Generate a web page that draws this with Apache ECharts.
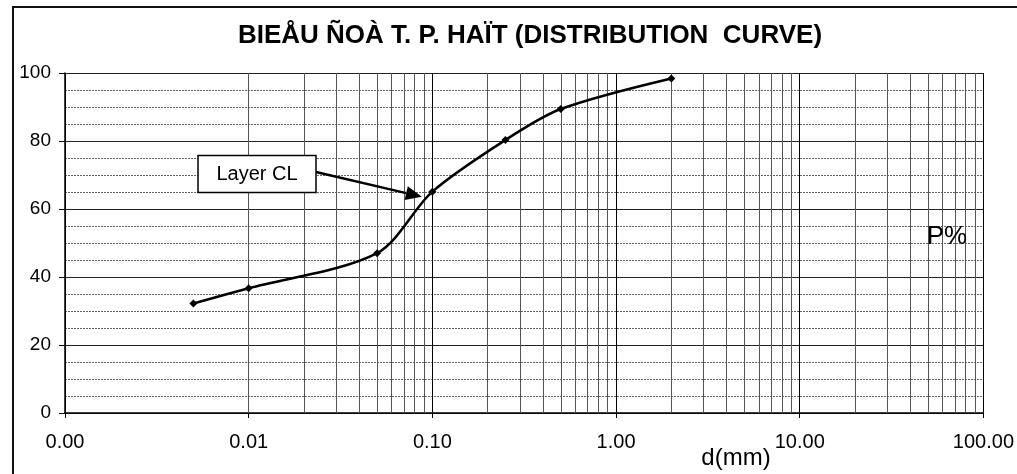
<!DOCTYPE html>
<html>
<head>
<meta charset="utf-8">
<script src="https://cdn.jsdelivr.net/npm/echarts@6/dist/echarts.min.js"></script>
<style>
  html, body { margin: 0; padding: 0; background: #fff; }
  #chart { width: 1017px; height: 474px; }
</style>
</head>
<body>
<div id="chart"></div>
<script>
// Grain size (mm) and percent passing
const grainSize = [0.005, 0.01, 0.05, 0.1, 0.25, 0.5, 2];
const percentPassing = [32.2, 36.7, 47.0, 65.1, 80.3, 89.4, 98.4];

const titleText = 'BIEÅU ÑOÀ T. P. HAÏT (DISTRIBUTION  CURVE)';
const layerLabel = 'Layer CL';
const xAxisName = 'd(mm)';
const yAxisName = 'P%';

// Decades of the logarithmic size axis
const decades = [0.001, 0.01, 0.1, 1, 10];
const minorSteps = [2, 3, 4, 5, 6, 7, 8, 9];

// Log-paper minor grid lines: 2..9 within every decade
const minorGridValues = [];
decades.forEach(d => minorSteps.forEach(s => minorGridValues.push(+(d * s).toPrecision(3))));

// Point the callout arrow at
const arrowTarget = [0.0876, 63.6];

const FONT = '"Liberation Sans", Arial, sans-serif';
const chart = echarts.init(document.getElementById('chart'), null, { renderer: 'canvas' });

const option = {
  animation: false,
  backgroundColor: '#fff',
  grid: { left: 65, right: 30, top: 73, bottom: 61, containLabel: false },
  title: {
    text: titleText,
    left: 525, top: 18, textAlign: 'center',
    textStyle: { fontFamily: FONT, fontSize: 26, fontWeight: 'bold', color: '#000' }
  },
  xAxis: {
    type: 'log', logBase: 10, min: 0.001, max: 100,
    axisLine: { show: true, onZero: false, lineStyle: { color: '#000', width: 1.5 } },
    axisTick: { show: true, length: 5, lineStyle: { color: '#000' } },
    axisLabel: {
      fontFamily: FONT, fontSize: 20, color: '#000', margin: 19,
      formatter: v => Number(v).toFixed(2)
    },
    splitLine: { show: true, lineStyle: { color: '#000', width: 1 } },
    minorTick: { show: false },
    minorSplitLine: { show: false }
  },
  yAxis: {
    type: 'value', min: 0, max: 100, interval: 20,
    axisLine: { show: true, onZero: false, lineStyle: { color: '#000', width: 1.5 } },
    axisTick: { show: true, length: 6, lineStyle: { color: '#000' } },
    axisLabel: { fontFamily: FONT, fontSize: 19, color: '#000', margin: 14 },
    splitLine: { show: true, lineStyle: { color: '#222', width: 1 } },
    minorTick: { show: false, splitNumber: 4 },
    minorSplitLine: { show: true, lineStyle: { color: '#666', width: 1, type: [2, 1] } }
  },
  series: [
    {
      type: 'line',
      data: grainSize.map((d, i) => [d, percentPassing[i]]),
      smooth: 0.3,
      symbol: 'diamond',
      symbolSize: 8,
      showAllSymbol: true,
      lineStyle: { color: '#000', width: 2.5 },
      itemStyle: { color: '#000' },
      z: 5,
      markLine: {
        silent: true,
        symbol: ['none', 'none'],
        label: { show: false },
        lineStyle: { color: '#555', width: 1, type: 'solid' },
        data: minorGridValues.map(v => ({ xAxis: v })),
        z: 1
      }
    }
  ]
};
chart.setOption(option);

// Callout box, arrow and axis captions
const tip = chart.convertToPixel({ gridIndex: 0 }, arrowTarget);
const boxRight = 316, boxMidY = 172;
const ang = Math.atan2(tip[1] - boxMidY, tip[0] - boxRight);
const headLen = 16, headHalf = 7;
const baseX = tip[0] - headLen * Math.cos(ang), baseY = tip[1] - headLen * Math.sin(ang);
const nx = -Math.sin(ang), ny = Math.cos(ang);

chart.setOption({
  graphic: [
    {
      type: 'rect', silent: true, z: 100,
      shape: { x: 13, y: 7, width: 1100, height: 600 },
      style: { fill: 'none', stroke: '#111', lineWidth: 2 }
    },
    {
      type: 'line', silent: true, z: 100,
      shape: { x1: boxRight, y1: boxMidY, x2: baseX, y2: baseY },
      style: { stroke: '#000', lineWidth: 2.5 }
    },
    {
      type: 'polygon', silent: true, z: 100,
      shape: { points: [tip, [baseX + nx * headHalf, baseY + ny * headHalf], [baseX - nx * headHalf, baseY - ny * headHalf]] },
      style: { fill: '#000' }
    },
    {
      type: 'rect', silent: true, z: 100,
      shape: { x: 198, y: 155.5, width: 118, height: 37 },
      style: { fill: '#fff', stroke: '#000', lineWidth: 1.5 }
    },
    {
      type: 'text', silent: true, z: 101,
      style: { x: 257, y: 174, text: layerLabel, align: 'center', verticalAlign: 'middle',
               font: '20px ' + FONT, fill: '#000' }
    },
    {
      type: 'text', silent: true, z: 101,
      style: { x: 947, y: 237, text: yAxisName, align: 'center', verticalAlign: 'middle',
               font: '26px ' + FONT, fill: '#000' }
    },
    {
      type: 'text', silent: true, z: 101,
      style: { x: 736, y: 458, text: xAxisName, align: 'center', verticalAlign: 'middle',
               font: '24px ' + FONT, fill: '#000' }
    }
  ]
});
</script>
</body>
</html>
